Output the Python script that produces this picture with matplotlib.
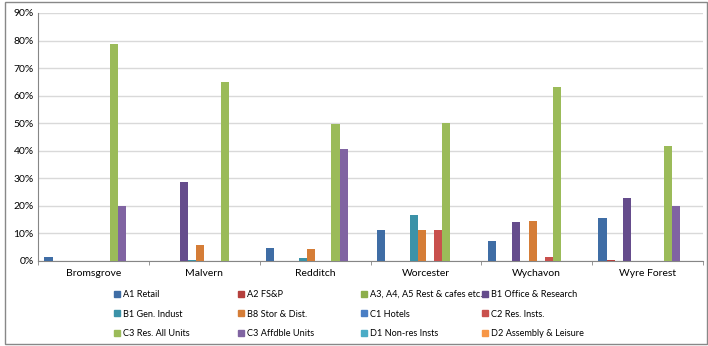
import numpy as np
import matplotlib
matplotlib.use("Agg")
import matplotlib.pyplot as plt
from matplotlib.patches import Patch, Rectangle
from matplotlib.ticker import PercentFormatter

plt.rcParams['font.family'] = ['Lato', 'DejaVu Sans']

districts = ["Bromsgrove", "Malvern", "Redditch", "Worcester", "Wychavon", "Wyre Forest"]

# share of each use class per district (%)
a1_retail = [1.5, 0, 4.7, 11.2, 7.3, 15.7]
a2_fsp = [0, 0, 0, 0, 0, 0.5]
a3_a4_a5 = [0, 0, 0, 0, 0, 0]
b1_office = [0, 28.8, 0, 0, 14.0, 22.7]
b1_gen = [0, 0.5, 1.0, 16.7, 0, 0]
b8_stor = [0, 5.7, 4.5, 11.4, 14.6, 0]
c1_hotels = [0, 0, 0, 0, 0, 0]
c2_res = [0, 0, 0, 11.3, 1.6, 0]
c3_all = [78.6, 65.0, 49.6, 50.1, 63.3, 41.6]
c3_aff = [20.0, 0, 40.6, 0, 0, 20.0]
d1_nonres = [0, 0, 0, 0, 0, 0]
d2_assembly = [0, 0, 0, 0, 0, 0]

series = [
    ("A1 Retail", a1_retail, "#3F6DA5"),
    ("A2 FS&P", a2_fsp, "#B5403D"),
    ("A3, A4, A5 Rest & cafes etc.", a3_a4_a5, "#8CAE4A"),
    ("B1 Office & Research", b1_office, "#654C8C"),
    ("B1 Gen. Indust", b1_gen, "#3B92A8"),
    ("B8 Stor & Dist.", b8_stor, "#D57D37"),
    ("C1 Hotels", c1_hotels, "#4A7EC4"),
    ("C2 Res. Insts.", c2_res, "#C9504D"),
    ("C3 Res. All Units", c3_all, "#9BBB59"),
    ("C3 Affdble Units", c3_aff, "#8064A2"),
    ("D1 Non-res Insts", d1_nonres, "#4BACC6"),
    ("D2 Assembly & Leisure", d2_assembly, "#F79646"),
]

fig = plt.figure(figsize=(7.08, 3.46), dpi=100)
ax = fig.add_axes([38/708, 1-261/346, (703-38)/708, (261-13)/346])

x = np.arange(len(districts))
n = len(series)
bw = 0.886 / n
for i, (name, vals, col) in enumerate(series):
    ax.bar(x - 0.443 + bw*(i+0.5), vals, width=bw, color=col, label=name, zorder=3)

ax.set_xlim(-0.5, len(districts)-0.5)
ax.set_ylim(0, 90)
ax.set_yticks(range(0, 91, 10))
ax.yaxis.set_major_formatter(PercentFormatter(decimals=0))
ax.set_xticks(x)
ax.set_xticklabels(districts, fontsize=7.5)
ax.set_xticks(np.arange(len(districts)+1) - 0.5, minor=True)
ax.tick_params(axis='x', which='major', length=0, pad=6)
ax.tick_params(axis='x', which='minor', length=3, color="#868686")
ax.tick_params(axis='y', labelsize=7.5, length=0, pad=3)
ax.grid(axis='y', color="#D9D9D9", linewidth=1, zorder=0)
for s in ["top", "right"]:
    ax.spines[s].set_visible(False)
ax.spines["left"].set_color("#868686")
ax.spines["bottom"].set_color("#868686")

# legend: 4 columns, filled row by row
col_x = [114, 238, 361, 482]
for c in range(4):
    handles = [Patch(color=series[r*4+c][2]) for r in range(3)]
    labels = [series[r*4+c][0] for r in range(3)]
    fig.legend(handles, labels, loc="upper left",
               bbox_to_anchor=(col_x[c]/708, 1-290/346), frameon=False,
               fontsize=6.6, handlelength=0.65, handleheight=0.65,
               handletextpad=0.35, labelspacing=1.15, borderpad=0, borderaxespad=0)

# outer frame
fig.add_artist(Rectangle((5/708, 2/346), 702/708, 342/346, transform=fig.transFigure,
                         fill=False, edgecolor="#888888", linewidth=1))

fig.savefig("out.png", dpi=100)
